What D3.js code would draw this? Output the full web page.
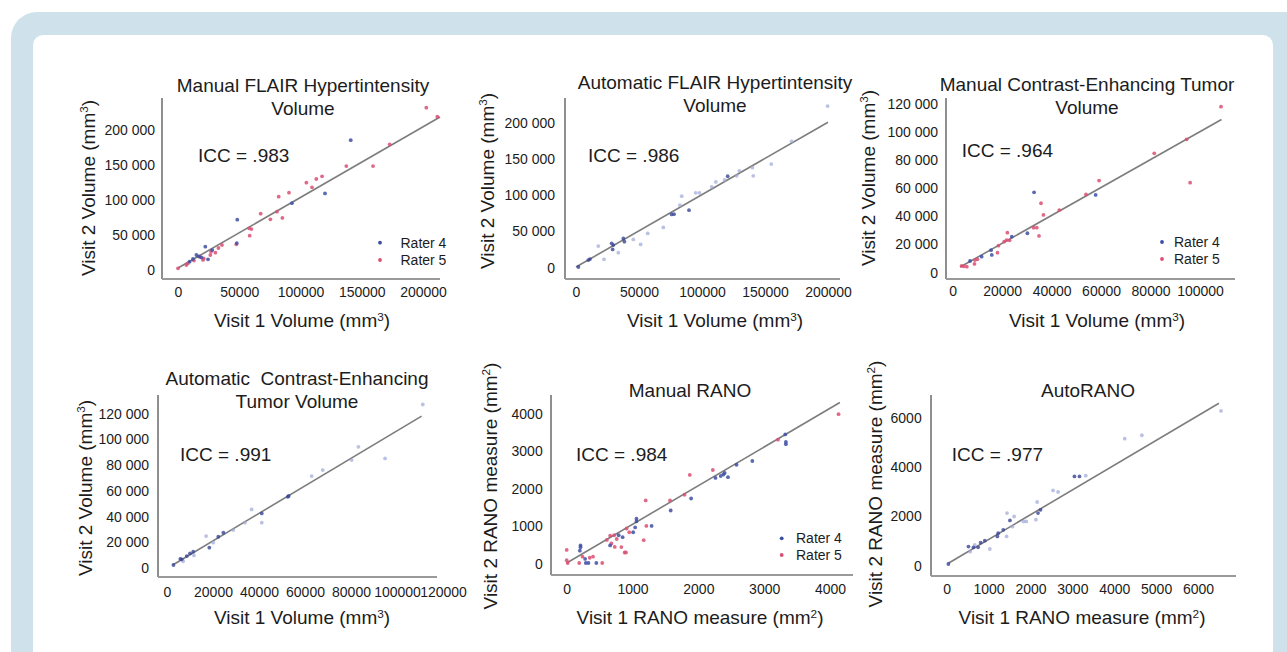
<!DOCTYPE html>
<html>
<head>
<meta charset="utf-8">
<script src="https://cdn.jsdelivr.net/npm/d3@7"></script>
<style>
  html, body { margin: 0; padding: 0; background: #ffffff; }
  svg { display: block; font-family: "Liberation Sans", Arial, Helvetica, sans-serif; }
</style>
</head>
<body>
<svg id="chart" width="1287" height="652"></svg>
<script>
// ---------------- DATA ----------------
// Panel 1: Manual FLAIR Hypertintensity Volume (mm3)
const flairManualRater4 = [[141000,184000],[120000,108000],[93000,94000],[48400,70500],[48000,37000],[22300,31900],[24500,13800],[15000,20000],[12200,14300],[9500,10500],[17000,18000],[19000,16500],[28000,27000]];
const flairManualRater5 = [[202700,230500],[211700,217600],[172800,178100],[137400,147100],[159200,147100],[104800,123300],[109400,116700],[112900,128600],[117600,132400],[90600,109000],[82200,103300],[80800,81900],[85200,72900],[67500,79000],[75400,71000],[58000,58100],[59900,57100],[58500,47600],[47600,35200],[35900,34300],[30500,23300],[26400,20000],[20400,12900],[17700,17600],[6800,5700],[0,1000],[13000,12000],[21000,15000],[27000,25000],[33000,30000],[8000,8000]];
const flairManualFit = [[0,1400],[213900,217100]];

// Panel 2: Automatic FLAIR Hypertintensity Volume
const flairAutoDense = [[120400,125200],[89700,78400],[77800,72900],[75900,72500],[37600,39400],[38400,34900],[29600,30300],[28300,32600],[29100,24300],[11100,11000],[9800,9600],[1900,0]];
const flairAutoFaint = [[199700,222000],[171200,173400],[140700,125700],[129600,132600],[127500,125700],[111000,117400],[107700,110600],[95000,102300],[98000,102300],[83900,97700],[82500,85300],[69300,54600],[56900,46300],[51300,31200],[45500,38100],[33600,19700],[17700,28900],[22200,10600],[140000,137000],[155000,142000],[118000,120000]];
const flairAutoFit = [[0,0],[200000,199600]];

// Panel 3: Manual Contrast-Enhancing Tumor Volume
const cetManualRater4 = [[57800,54700],[32900,56600],[30200,27500],[23900,25100],[15800,12100],[15500,15500],[11700,10900],[7000,7800]];
const cetManualRater5 = [[108500,117400],[94600,94200],[81500,84300],[96000,63400],[59200,64900],[53900,55100],[43100,44000],[36700,40500],[35700,48800],[34000,31500],[32700,31500],[34900,25600],[22100,27900],[21800,22700],[23000,22500],[20800,21500],[18500,18700],[18100,13700],[9000,8500],[8800,5700],[5700,3800],[3600,4300],[4500,4000],[10000,9000]];
const cetManualFit = [[3000,3500],[108700,108300]];

// Panel 4: Automatic Contrast-Enhancing Tumor Volume
const cetAutoDense = [[52900,55600],[52500,55000],[41200,42100],[24500,27100],[22300,24000],[18400,15500],[11400,12400],[10000,11100],[8600,9000],[6400,6500],[5800,6900],[2800,2100]];
const cetAutoFaint = [[111200,126600],[83200,93800],[80300,83500],[94800,84800],[67700,75700],[62900,71100],[36800,45200],[41200,34900],[33900,34900],[28800,29200],[17000,24500],[20100,19400],[11700,9500],[7000,5000]];
const cetAutoFit = [[2500,2100],[110700,117600]];

// Panel 5: Manual RANO (mm2)
const ranoManualRater4 = [[3320,3430],[3330,3230],[3330,3170],[2820,2720],[2580,2620],[2450,2290],[2380,2360],[2340,2320],[2260,2270],[2400,2400],[1890,1720],[1580,1400],[1290,990],[1060,1180],[1060,1110],[1040,950],[1010,820],[850,690],[790,740],[660,470],[280,110],[210,470],[210,420],[200,330],[290,0],[330,0],[450,0]];
const ranoManualRater5 = [[4130,3970],[3210,3290],[2220,2480],[1870,2350],[1790,1820],[1570,1670],[1200,1670],[1210,990],[1170,610],[950,820],[910,920],[760,640],[720,740],[660,730],[730,430],[880,280],[900,280],[830,425],[680,520],[610,615],[400,170],[0,75],[15,0],[0,350],[190,0],[540,0],[240,170],[350,140]];
const ranoManualFit = [[0,0],[4150,4280]];

// Panel 6: AutoRANO
const ranoAutoDense = [[3170,3600],[3050,3600],[2240,2240],[2180,2110],[1510,1810],[1350,1430],[1230,1290],[1210,1160],[910,990],[810,910],[750,720],[520,750],[640,720],[40,40]];
const ranoAutoFaint = [[6550,6260],[4660,5270],[4250,5130],[3320,3630],[2660,2970],[2540,3030],[2160,2560],[2130,1840],[1900,1770],[1830,1770],[1610,1970],[1440,2110],[1570,1560],[1430,1160],[670,820],[560,540],[1030,650]];
const ranoAutoFit = [[40,70],[6500,6570]];

// Tick values and labels
const volTicks200k = [0,50000,100000,150000,200000];
const volTicks200kXLabels = ["0","50000","100000","150000","200000"];
const volTicks200kYLabels = ["0","50 000","100 000","150 000","200 000"];
const volTicks100kX = [0,20000,40000,60000,80000,100000];
const volTicks100kXLabels = ["0","20000","40000","60000","80000","100000"];
const volTicks120kX = [0,20000,40000,60000,80000,100000,120000];
const volTicks120kXLabels = ["0","20000","40000","60000","80000","100000","120000"];
const volTicks120kY = [0,20000,40000,60000,80000,100000,120000];
const volTicks120kYLabels = ["0","20 000","40 000","60 000","80 000","100 000","120 000"];
const ranoTicks4k = [0,1000,2000,3000,4000];
const ranoTicks4kLabels = ["0","1000","2000","3000","4000"];
const ranoTicks6kX = [0,1000,2000,3000,4000,5000,6000];
const ranoTicks6kXLabels = ["0","1000","2000","3000","4000","5000","6000"];
const ranoTicks6kY = [0,2000,4000,6000];
const ranoTicks6kYLabels = ["0","2000","4000","6000"];

const titles = [
  ["Manual FLAIR Hypertintensity","Volume"],
  ["Automatic FLAIR Hypertintensity","Volume"],
  ["Manual Contrast-Enhancing Tumor","Volume"],
  ["Automatic\u00A0 Contrast-Enhancing","Tumor Volume"],
  ["Manual RANO"],
  ["AutoRANO"]
];
const iccLabels = ["ICC = .983","ICC = .986","ICC = .964","ICC = .991","ICC = .984","ICC = .977"];
const legendLabels = ["Rater 4","Rater 5"];

// ---------------- STYLE ----------------
const COL_R4 = "#3d4fa3";
const COL_R5 = "#db4f73";
const COL_DENSE = "#3a4596";
const COL_FAINT = "#9ea6d6";
const TEXT = "#1c1c1c";

const svg = d3.select("#chart");

// background frame
svg.append("rect").attr("x",11).attr("y",12).attr("width",1300).attr("height",700).attr("rx",26).attr("fill","#cfe1ea");
svg.append("rect").attr("x",33).attr("y",35).attr("width",1240).attr("height",680).attr("rx",10).attr("fill","#ffffff");

const panels = [
  { // 1
    xDomain:[0,200000], xRange:[178,423], yDomain:[0,200000], yRange:[269,129],
    axisX:162, axisTop:98, axisBottom:279, axisRight:440,
    xTicks:volTicks200k, xLabels:volTicks200kXLabels, yTicks:volTicks200k, yLabels:volTicks200kYLabels,
    xLabelBase:297, yLabelRight:155,
    title:titles[0], titleX:303, titleBase:[91.5,114.5],
    icc:iccLabels[0], iccX:198, iccBase:162,
    xTitle:["Visit 1 Volume (mm","3",")"], xTitleX:302, xTitleBase:327,
    yTitle:["Visit 2 Volume (mm","3",")"], yTitleX:88, yTitleY:188,
    series:[{d:flairManualRater5,c:COL_R5,o:0.85},{d:flairManualRater4,c:COL_R4,o:0.85}],
    fit:flairManualFit,
    legend:{dotX:380, textX:400.5, ys:[242.7,260]}
  },
  { // 2
    xDomain:[0,200000], xRange:[576,828], yDomain:[0,200000], yRange:[267,122],
    axisX:565, axisTop:98, axisBottom:279, axisRight:840,
    xTicks:volTicks200k, xLabels:volTicks200kXLabels, yTicks:volTicks200k, yLabels:volTicks200kYLabels,
    xLabelBase:297, yLabelRight:555,
    title:titles[1], titleX:715, titleBase:[89.3,112.3],
    icc:iccLabels[1], iccX:588, iccBase:162,
    xTitle:["Visit 1 Volume (mm","3",")"], xTitleX:715, xTitleBase:327,
    yTitle:["Visit 2 Volume (mm","3",")"], yTitleX:487, yTitleY:181,
    series:[{d:flairAutoFaint,c:COL_FAINT,o:0.7},{d:flairAutoDense,c:COL_DENSE,o:0.8}],
    fit:flairAutoFit
  },
  { // 3
    xDomain:[0,100000], xRange:[952.7,1200], yDomain:[0,120000], yRange:[272,103],
    axisX:946, axisTop:98, axisBottom:279, axisRight:1235,
    xTicks:volTicks100kX, xLabels:volTicks100kXLabels, yTicks:volTicks120kY, yLabels:volTicks120kYLabels,
    xLabelBase:295.5, yLabelRight:938,
    title:titles[2], titleX:1087, titleBase:[90.7,114],
    icc:iccLabels[2], iccX:961.7, iccBase:157,
    xTitle:["Visit 1 Volume (mm","3",")"], xTitleX:1097, xTitleBase:327,
    yTitle:["Visit 2 Volume (mm","3",")"], yTitleX:868, yTitleY:178,
    series:[{d:cetManualRater5,c:COL_R5,o:0.85},{d:cetManualRater4,c:COL_R4,o:0.85}],
    fit:cetManualFit,
    legend:{dotX:1162, textX:1174, ys:[242,259]}
  },
  { // 4
    xDomain:[0,120000], xRange:[167,443], yDomain:[0,120000], yRange:[567.7,413],
    axisX:158, axisTop:395, axisBottom:577, axisRight:437,
    xTicks:volTicks120kX, xLabels:volTicks120kXLabels, yTicks:volTicks120kY, yLabels:volTicks120kYLabels,
    xLabelBase:597, yLabelRight:149,
    title:titles[3], titleX:297, titleBase:[385,408.3],
    icc:iccLabels[3], iccX:180, iccBase:461,
    xTitle:["Visit 1 Volume (mm","3",")"], xTitleX:302, xTitleBase:624,
    yTitle:["Visit 2 Volume (mm","3",")"], yTitleX:85, yTitleY:488,
    series:[{d:cetAutoFaint,c:COL_FAINT,o:0.7},{d:cetAutoDense,c:COL_DENSE,o:0.8}],
    fit:cetAutoFit
  },
  { // 5
    xDomain:[0,4000], xRange:[566.7,830], yDomain:[0,4000], yRange:[563,413],
    axisX:551, axisTop:395, axisBottom:575, axisRight:853,
    xTicks:ranoTicks4k, xLabels:ranoTicks4kLabels, yTicks:ranoTicks4k, yLabels:ranoTicks4kLabels,
    xLabelBase:593.5, yLabelRight:542.7,
    title:titles[4], titleX:690, titleBase:[397.3],
    icc:iccLabels[4], iccX:576, iccBase:461,
    xTitle:["Visit 1 RANO measure (mm","2",")"], xTitleX:700, xTitleBase:624,
    yTitle:["Visit 2 RANO measure (mm","2",")"], yTitleX:490, yTitleY:486,
    series:[{d:ranoManualRater5,c:COL_R5,o:0.85},{d:ranoManualRater4,c:COL_R4,o:0.85}],
    fit:ranoManualFit,
    legend:{dotX:781.7, textX:796, ys:[538.3,555]}
  },
  { // 6
    xDomain:[0,6000], xRange:[946.7,1198], yDomain:[0,6000], yRange:[565,417.3],
    axisX:931, axisTop:395, axisBottom:576, axisRight:1236,
    xTicks:ranoTicks6kX, xLabels:ranoTicks6kXLabels, yTicks:ranoTicks6kY, yLabels:ranoTicks6kYLabels,
    xLabelBase:593.5, yLabelRight:921.7,
    title:titles[5], titleX:1088, titleBase:[397.3],
    icc:iccLabels[5], iccX:951.7, iccBase:461,
    xTitle:["Visit 1 RANO measure (mm","2",")"], xTitleX:1082, xTitleBase:624,
    yTitle:["Visit 2 RANO measure (mm","2",")"], yTitleX:875, yTitleY:484,
    series:[{d:ranoAutoFaint,c:COL_FAINT,o:0.7},{d:ranoAutoDense,c:COL_DENSE,o:0.8}],
    fit:ranoAutoFit
  }
];

function supText(sel, parts){
  sel.append("tspan").text(parts[0]);
  sel.append("tspan").attr("font-size","0.62em").attr("dy","-0.55em").text(parts[1]);
  sel.append("tspan").attr("dy","0.34em").text(parts[2]);
}

panels.forEach(p => {
  const g = svg.append("g");
  const x = d3.scaleLinear().domain(p.xDomain).range(p.xRange);
  const y = d3.scaleLinear().domain(p.yDomain).range(p.yRange);

  // axis lines
  g.append("line").attr("x1",p.axisX).attr("x2",p.axisX).attr("y1",p.axisTop).attr("y2",p.axisBottom)
    .attr("stroke","#8f8f8f").attr("stroke-width",2);
  g.append("line").attr("x1",p.axisX).attr("x2",p.axisRight).attr("y1",p.axisBottom).attr("y2",p.axisBottom)
    .attr("stroke","#9a9a9a").attr("stroke-width",2);

  // x tick labels via d3 axis
  const xa = g.append("g").attr("transform",`translate(0,${p.xLabelBase})`)
    .call(d3.axisBottom(x).tickValues(p.xTicks).tickFormat((d,i)=>p.xLabels[i]).tickSize(0).tickPadding(0));
  xa.select(".domain").remove();
  xa.selectAll("text").attr("dy",0).attr("y",0).attr("font-size",14).attr("fill",TEXT)
    .attr("font-family","'Liberation Sans', Arial, sans-serif");

  const ya = g.append("g").attr("transform",`translate(${p.yLabelRight},0)`)
    .call(d3.axisLeft(y).tickValues(p.yTicks).tickFormat((d,i)=>p.yLabels[i]).tickSize(0).tickPadding(0));
  ya.select(".domain").remove();
  ya.selectAll("text").attr("x",0).attr("dy","0.36em").attr("font-size",14).attr("fill",TEXT)
    .attr("font-family","'Liberation Sans', Arial, sans-serif");

  // fit line
  g.append("line")
    .attr("x1",x(p.fit[0][0])).attr("y1",y(p.fit[0][1]))
    .attr("x2",x(p.fit[1][0])).attr("y2",y(p.fit[1][1]))
    .attr("stroke","#7d7d7d").attr("stroke-width",1.6);

  // points
  p.series.forEach(s => {
    g.append("g").selectAll("circle").data(s.d).join("circle")
      .attr("cx",d=>x(d[0])).attr("cy",d=>y(d[1])).attr("r",1.9)
      .attr("fill",s.c).attr("fill-opacity",s.o);
  });

  // title
  p.title.forEach((t,i)=>{
    g.append("text").attr("x",p.titleX).attr("y",p.titleBase[i]).attr("text-anchor","middle")
      .attr("font-size",19).attr("fill",TEXT).text(t);
  });

  // ICC
  g.append("text").attr("x",p.iccX).attr("y",p.iccBase).attr("font-size",19).attr("fill",TEXT).text(p.icc);

  // x title
  const xt = g.append("text").attr("x",p.xTitleX).attr("y",p.xTitleBase).attr("text-anchor","middle")
    .attr("font-size",19).attr("fill",TEXT);
  supText(xt,p.xTitle);

  // y title
  const yt = g.append("text").attr("transform",`translate(${p.yTitleX},${p.yTitleY}) rotate(-90)`)
    .attr("text-anchor","middle").attr("dy","0.35em").attr("font-size",19).attr("fill",TEXT);
  supText(yt,p.yTitle);

  // legend
  if (p.legend) {
    [COL_R4,COL_R5].forEach((c,i)=>{
      g.append("circle").attr("cx",p.legend.dotX).attr("cy",p.legend.ys[i]).attr("r",1.9).attr("fill",c);
      g.append("text").attr("x",p.legend.textX).attr("y",p.legend.ys[i]).attr("dy","0.35em")
        .attr("font-size",14).attr("fill",TEXT).text(legendLabels[i]);
    });
  }
});
</script>
</body>
</html>
